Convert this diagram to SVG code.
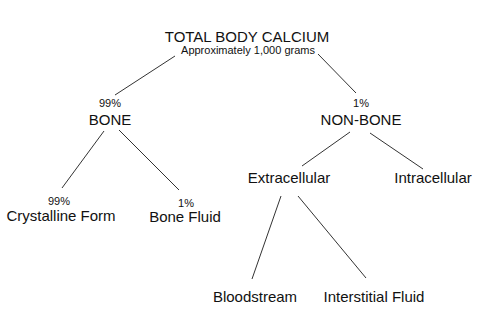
<svg xmlns="http://www.w3.org/2000/svg" width="495" height="326" viewBox="0 0 495 326">
<style>
text{font-family:"Liberation Sans",Arial,sans-serif;fill:#111;text-anchor:middle}
.t{font-size:15px}
.s{font-size:11px}
#connectors line{stroke:#333;stroke-width:1}
</style>
<rect width="495" height="326" fill="#fff"/>
<g id="connectors">
<line x1="175" y1="56" x2="115" y2="95"/>
<line x1="318" y1="54" x2="356" y2="93"/>
<line x1="104" y1="131" x2="62" y2="188"/>
<line x1="119" y1="130" x2="179" y2="190"/>
<line x1="350" y1="132" x2="302" y2="166"/>
<line x1="370" y1="133" x2="423" y2="169"/>
<line x1="281" y1="196" x2="252" y2="279"/>
<line x1="298" y1="196" x2="366" y2="278"/>
</g>
<g id="total"><text class="t" x="247" y="42">TOTAL BODY CALCIUM</text><text class="s" x="248" y="54">Approximately 1,000 grams</text></g>
<g id="bone"><text class="s" x="110" y="107">99%</text><text class="t" x="110" y="125">BONE</text></g>
<g id="nonbone"><text class="s" x="361" y="107">1%</text><text class="t" x="361" y="125">NON-BONE</text></g>
<g id="crystalline"><text class="s" x="59" y="205">99%</text><text class="t" x="61" y="221">Crystalline Form</text></g>
<g id="bonefluid"><text class="s" x="186" y="207">1%</text><text class="t" x="185" y="222">Bone Fluid</text></g>
<g id="extracellular"><text class="t" x="289" y="183">Extracellular</text></g>
<g id="intracellular"><text class="t" x="433" y="183">Intracellular</text></g>
<g id="bloodstream"><text class="t" x="255" y="302">Bloodstream</text></g>
<g id="interstitial"><text class="t" x="374" y="302">Interstitial Fluid</text></g>
</svg>
